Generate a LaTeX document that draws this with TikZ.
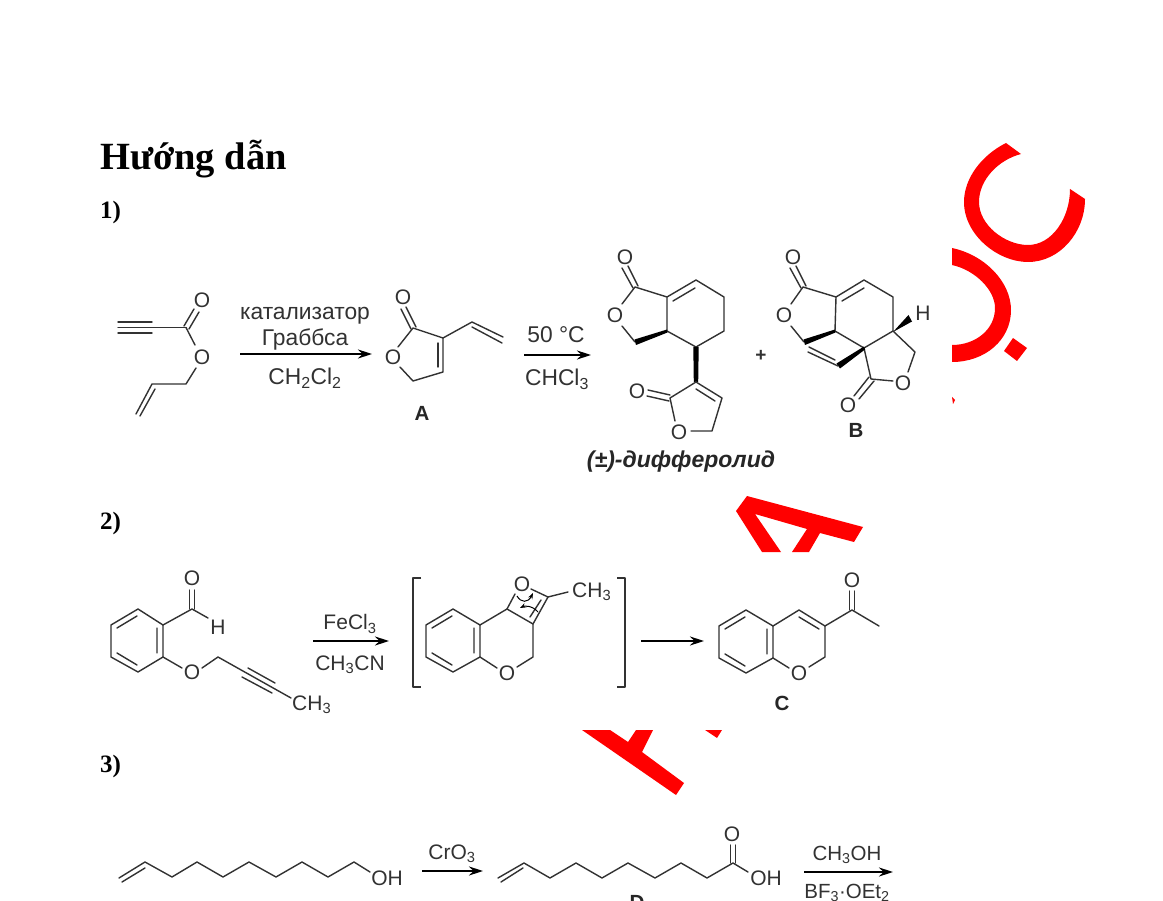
\documentclass[tikz,border=0pt]{standalone}
\usepackage{fontspec}
\setmainfont{Liberation Sans}
\newfontfamily\headfont{Liberation Serif}
\usetikzlibrary{arrows.meta}
\definecolor{ink}{RGB}{50,50,50}
\tikzset{
  x=1pt,y=-1pt,
  bond/.style={draw=ink,line width=1.4pt,line cap=round,line join=round},
  wedge/.style={fill=black,draw=none},
  atom/.style={font=\fontsize{21}{23}\selectfont,text=ink,inner sep=0pt},
  reagenta/.style={font=\fontsize{22.8}{24}\selectfont,text=ink,inner sep=0pt},
  reagentb/.style={font=\fontsize{21}{23}\selectfont,text=ink,inner sep=0pt},
  reagentc/.style={font=\fontsize{20.5}{23}\selectfont,text=ink,inner sep=0pt},
  tag/.style={font=\fontsize{20.5}{22}\selectfont\bfseries,text=black!85,inner sep=0pt},
  rarrow/.style={draw=black,line width=1.6pt,-{Stealth[length=14pt,width=9pt]}},
  head/.style={font=\fontsize{38.5}{42}\selectfont\headfont\bfseries,anchor=west,inner sep=0pt},
  num/.style={font=\fontsize{25}{28}\selectfont\headfont\bfseries,anchor=west,inner sep=0pt},
  wm/.style={fill=red,draw=none},
  curly/.style={draw=black,line width=1pt,-{Stealth[length=6pt,width=4.5pt]}}
}
\begin{document}
\begin{tikzpicture}
\useasboundingbox (0,0) rectangle (1163,901);
\clip (0,0) rectangle (1163,901);
\fill[white] (0,0) rectangle (1163,901);

% watermark
\fill[wm] (1006,143) .. controls (982,155) and (964,178) .. (964,202) .. controls (964,235) and (998,262) .. (1028,262) .. controls (1060,262) and (1085,232) .. (1085,199) -- (1070,189) .. controls (1070,218) and (1052,245) .. (1028,245) .. controls (1005,245) and (979,225) .. (979,202) .. controls (979,180) and (998,160) .. (1021,154) -- cycle;
\fill[wm] (952,248) .. controls (985,255) and (1011,282) .. (1011,310) .. controls (1011,340) and (985,362) .. (952,362) -- (952,345) .. controls (975,345) and (995,330) .. (995,308) .. controls (995,290) and (975,270) .. (952,265) -- cycle;
\fill[wm] (1013,338)--(1027,348)--(1017,361)--(1004,351)--cycle;
\fill[wm] (952,397)--(955,400)--(953,404)--cycle;
\fill[wm] (747,496)--(863,527)--(854,542)--(820,533)--(809,552)--(792,552)--(807,529)--(755,514)--(781,552)--(762,552)--(736,511)--cycle;
\fill[wm] (582,730)--(610,730)--(628,742)--(636,730)--(653,730)--(642,752)--(684,783)--(676,795)--cycle;
\fill[wm] (705,730)--(722,730)--(717,738)--cycle;

% headings
\node[head] (title) at (100,159) {Hướng dẫn};
\node[num] (n1) at (100,212) {1)};
\node[num] (n2) at (100,523) {2)};
\node[num] (n3) at (100,766) {3)};

% ---- scheme 1: enyne ester
\node[atom] (e1) at (202,300) {O};
\node[atom] (e2) at (202,357) {O};
\draw[bond] (118,322)--(152,322) (118,333)--(152,333) (118,327.5)--(186,327.5);
\draw[bond] (184,326)--(194,309) (189,329)--(199,312);
\draw[bond] (186,327.5)--(195,345);
\draw[bond] (196,368)--(186,384)--(152,384)--(136,414);
\draw[bond] (155,389)--(140,416);

\node[reagenta] (r1a) at (305,316) {катализатор};
\node[reagenta] (r1b) at (305,340) {Граббса};
\node[reagenta] (r1c) at (305,378) {CH\textsubscript{2}Cl\textsubscript{2}};
\coordinate (a1s) at (240,354); \coordinate (a1e) at (372,354);
\draw[rarrow] (a1s)--(a1e);

% A
\node[atom] (a1) at (403,297) {O};
\node[atom] (a2) at (393,357) {O};
\node[tag] (la) at (422,413) {A};
\draw[bond] (411,329)--(401,309) (416,327)--(406,307);
\draw[bond] (398,347)--(413,328)--(443,338)--(443,372)--(413,381)--(400,367);
\draw[bond] (438,343)--(438,367);
\draw[bond] (443,338)--(472,322)--(503,337) (472,327)--(502,343);

\node[reagenta] (r2a) at (556,335) {50 °C};
\node[reagenta] (r2b) at (557,379) {CHCl\textsubscript{3}};
\coordinate (a2s) at (524,355); \coordinate (a2e) at (591,355);
\draw[rarrow] (a2s)--(a2e);

% differolide
\node[atom] (d1) at (625,257) {O};
\node[atom] (d2) at (615,315) {O};
\node[atom] (d3) at (637,391) {O};
\node[atom] (d4) at (679,432) {O};
\draw[bond] (633,288)--(622,268) (638,286)--(628,266);
\draw[bond] (622,304)--(635,287)--(667,297)--(696,280)--(724,297)--(724,331)--(696,347)--(667,331)--(667,297);
\draw[bond] (673,301)--(695,288);
\draw[bond] (622,326)--(635,342);
\fill[wedge] (634.5,339.5)--(667,329.5)--(667.5,332.5)--(636,345)--cycle;
\fill[wedge] (693.3,347)--(698.7,347)--(698.2,382)--(693.8,382)--cycle;
\draw[bond] (696,382)--(722,398)--(712,431)--(691,431);
\draw[bond] (696,389)--(715,401);
\draw[bond] (696,382)--(670,398)--(675,421);
\draw[bond] (648,390)--(670,395) (647,396)--(669,401);
\node[font=\fontsize{23}{25}\selectfont\bfseries\itshape,text=black!85,inner sep=0pt] (dl) at (681,462) {(±)-дифферолид};
\node[font=\fontsize{19}{20}\selectfont\bfseries,text=ink,inner sep=0pt] (plus) at (761,356) {+};

% B
\node[atom] (b1) at (793,257) {O};
\node[atom] (b2) at (784,315) {O};
\node[atom] (b3) at (903,383) {O};
\node[atom] (b4) at (848,405) {O};
\node[atom] (bh) at (923,313) {H};
\node[tag] (lb) at (856,430) {B};
\draw[bond] (801,288)--(790,268) (806,286)--(796,266);
\draw[bond] (791,304)--(803,287)--(836,297)--(864,280)--(893,297)--(893,331)--(864,348)--(835,331)--(836,297);
\draw[bond] (842,301)--(864,288);
\draw[bond] (791,326)--(804,342);
\fill[wedge] (803.5,339.5)--(835,329.5)--(835.5,332.5)--(805,345)--cycle;
\fill[wedge] (893,332)--(908.5,315)--(912,321.5)--cycle;
\draw[bond] (893,331)--(915,352)--(908,372);
\draw[bond] (893,381)--(871,379)--(864,348);
\draw[bond] (869,377)--(854,396) (874,381)--(859,399);
\fill[wedge] (864,346.5)--(865,349.5)--(840,368.5)--(836.5,363.5)--cycle;
\draw[bond] (838,366)--(808,352) (835,360)--(809,347);

% ---- scheme 2
\node[atom] (s1) at (192,578) {O};
\node[atom] (s2) at (218,627) {H};
\node[atom] (s3) at (192,672) {O};
\node[atom,anchor=west] (s4) at (292,705) {CH\textsubscript{3}};
\draw[bond] (138,609)--(163,625)--(163,657)--(138,672)--(111,657)--(111,625)--cycle;
\draw[bond] (117,628)--(137,616) (157,628)--(157,653) (117,653)--(137,665);
\draw[bond] (163,625)--(192,609)--(208,618);
\draw[bond] (189.5,609)--(189.5,590) (194.5,609)--(194.5,590);
\draw[bond] (163,657)--(182,668) (202,668)--(218,657)--(291,698);
\draw[bond] (242,677)--(272,693) (248,668)--(275,683);

\node[reagentb] (r3a) at (350,624) {FeCl\textsubscript{3}};
\node[reagentb] (r3b) at (350,665) {CH\textsubscript{3}CN};
\coordinate (a3s) at (313,641); \coordinate (a3e) at (389,641);
\draw[rarrow] (a3s)--(a3e);

\draw[bond,line cap=butt] (421,578)--(413,578)--(413,687)--(421,687);
\draw[bond,line cap=butt] (617,578)--(625,578)--(625,687)--(617,687);

\node[atom] (i1) at (522,584) {O};
\node[atom] (i2) at (507,673) {O};
\node[atom,anchor=west] (i3) at (572,592) {CH\textsubscript{3}};
\draw[bond] (453,609)--(480,625)--(480,657)--(453,672)--(426,657)--(426,625)--cycle;
\draw[bond] (432,628)--(452,616) (474,628)--(474,653) (432,653)--(452,665);
\draw[bond] (480,625)--(507,609)--(533,624)--(548,597)--(531,589);
\draw[bond] (507,609)--(515,594);
\draw[bond] (548,597)--(568,592);
\draw[bond] (533,624)--(533,657)--(517,667);
\draw[bond] (480,657)--(497,668);
\draw[bond] (530,617)--(541,600);
\draw[curly] (517,596) .. controls (521,603) and (528,603) .. (533,593);
\draw[curly] (538,612) .. controls (532,605) and (524,606) .. (520,608);

\coordinate (a4s) at (641,641); \coordinate (a4e) at (704,641);
\draw[rarrow] (a4s)--(a4e);

% C
\node[atom] (c1) at (799,673) {O};
\node[atom] (c2) at (852,580) {O};
\node[tag] (lc) at (782,703) {C};
\draw[bond] (746,610)--(773,626)--(773,658)--(746,673)--(719,658)--(719,626)--cycle;
\draw[bond] (725,629)--(745,617) (767,629)--(767,654) (725,654)--(745,666);
\draw[bond] (773,626)--(799,610)--(825,626)--(825,657)--(809,667);
\draw[bond] (773,658)--(789,668);
\draw[bond] (799,617)--(819,629);
\draw[bond] (825,626)--(852,610)--(879,626);
\draw[bond] (849.5,610)--(849.5,591) (854.5,610)--(854.5,591);

% ---- scheme 3
\node[atom] (o1) at (387,878) {OH};
\draw[bond] (119,878)--(145,862)--(172,877)--(197,862)--(223,877)--(249,862)--(276,877)--(302,862)--(328,877)--(354,862)--(370,872);
\draw[bond] (122,882)--(145,868);
\node[reagentb] (r4) at (452,854) {CrO\textsubscript{3}};
\coordinate (a5s) at (422,871); \coordinate (a5e) at (483,871);
\draw[rarrow] (a5s)--(a5e);
\node[atom] (o2) at (732,834) {O};
\node[atom] (o3) at (766,878) {OH};
\node[tag] (ld) at (637,902) {D};
\draw[bond] (498,878)--(524,863)--(550,878)--(576,863)--(602,878)--(628,863)--(655,878)--(681,863)--(707,878)--(733,863)--(748,872);
\draw[bond] (501,882)--(523,868);
\draw[bond] (730.5,863)--(730.5,845) (735.5,863)--(735.5,845);
\node[reagentc] (r5a) at (847,855) {CH\textsubscript{3}OH};
\node[reagentc] (r5b) at (847,893) {BF\textsubscript{3}·OEt\textsubscript{2}};
\coordinate (a6s) at (804,872); \coordinate (a6e) at (893,872);
\draw[rarrow] (a6s)--(a6e);
\end{tikzpicture}
\end{document}
